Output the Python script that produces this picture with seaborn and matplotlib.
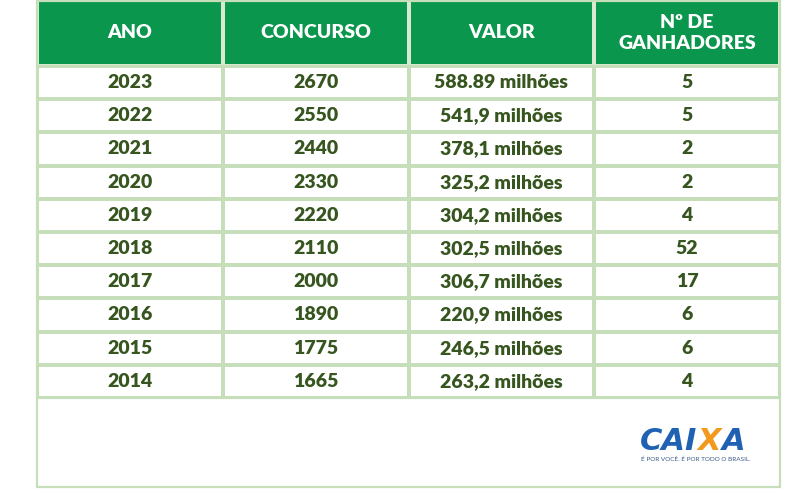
import matplotlib
matplotlib.use("Agg")
import matplotlib.pyplot as plt
import seaborn as sns
import numpy as np
import pandas as pd
from matplotlib.patches import Rectangle

# ---- data ----
anos = ["2023", "2022", "2021", "2020", "2019", "2018", "2017", "2016", "2015", "2014"]
concursos = ["2670", "2550", "2440", "2330", "2220", "2110", "2000", "1890", "1775", "1665"]
valores = ["588.89 milhões", "541,9 milhões", "378,1 milhões", "325,2 milhões", "304,2 milhões",
           "302,5 milhões", "306,7 milhões", "220,9 milhões", "246,5 milhões", "263,2 milhões"]
ganhadores = ["5", "5", "2", "2", "4", "52", "17", "6", "6", "4"]
colunas = ["ANO", "CONCURSO", "VALOR", "Nº DE\nGANHADORES"]

sns.set_theme(style="white")
plt.rcParams['font.family'] = ['Lato', 'DejaVu Sans']

W, H = 800, 493
fig = plt.figure(figsize=(W / 100, H / 100), dpi=100)
fig.patch.set_facecolor("white")

GREEN = "#0a964c"
LINE = "#c6deb9"
TEXT = "#37561f"

x0, x1 = 37, 780
y_head_top, y_head_bot, y_body_bot, y_box_bot = 0, 66, 398, 487

def ax_at(xa, xb, ya, yb):
    return fig.add_axes([xa / W, 1 - yb / H, (xb - xa) / W, (yb - ya) / H])

body = pd.DataFrame({"ANO": anos, "CONCURSO": concursos, "VALOR": valores, "GANH": ganhadores})

# header
axh = ax_at(x0, x1, y_head_top, y_head_bot)
sns.heatmap(np.zeros((1, 4)), ax=axh, cmap=matplotlib.colors.ListedColormap([GREEN]), cbar=False,
            annot=np.array([colunas]), fmt="", linewidths=1.5, linecolor="#d9ead0",
            annot_kws=dict(fontsize=14, fontweight="heavy", color="white"))
for t in axh.texts:
    t.set_linespacing(1.25)
axh.set_xticks([]); axh.set_yticks([])

# body
axb = ax_at(x0, x1, y_head_bot, y_body_bot)
sns.heatmap(np.zeros((10, 4)), ax=axb, cmap=matplotlib.colors.ListedColormap(["white"]), cbar=False,
            annot=body.values, fmt="", linewidths=1.6, linecolor=LINE,
            annot_kws=dict(fontsize=14, fontweight="heavy", color=TEXT))
axb.set_xticks([]); axb.set_yticks([])

# overlay for borders and logo
ov = fig.add_axes([0, 0, 1, 1])
ov.set_xlim(0, W); ov.set_ylim(H, 0); ov.axis("off")
ov.patch.set_alpha(0)
ov.add_patch(Rectangle((x0, y_head_top + 0.5), x1 - x0, y_box_bot - y_head_top - 0.5,
                       fill=False, ec=LINE, lw=1.6))
ov.plot([x0, x1], [y_body_bot, y_body_bot], color=LINE, lw=1.6)
ov.plot([x0, x1], [y_head_bot, y_head_bot], color=LINE, lw=1.6)

# CAIXA logo
fig.canvas.draw()
r = fig.canvas.get_renderer()
BLUE = "#1f62b3"
ORANGE = "#f29a1e"
xpos = 640
kw = dict(fontsize=22, fontweight="bold", fontstyle="oblique", va="baseline", ha="left",
          family="DejaVu Sans")
for part, col in [("CAI", BLUE), ("X", ORANGE), ("A", BLUE)]:
    t = ov.text(xpos, 450, part, color=col, **kw)
    bb = t.get_window_extent(renderer=r)
    xpos += bb.width + 0.5
tag = ov.text(641, 459, "É POR VOCÊ. É POR TODO O BRASIL.", fontsize=5, color="#3a5b8a",
              ha="left", va="center", family="Lato")
wt = tag.get_window_extent(renderer=r).width
tag.set_fontsize(5 * 111 / wt)

fig.savefig("out.png", dpi=100, facecolor="white")
